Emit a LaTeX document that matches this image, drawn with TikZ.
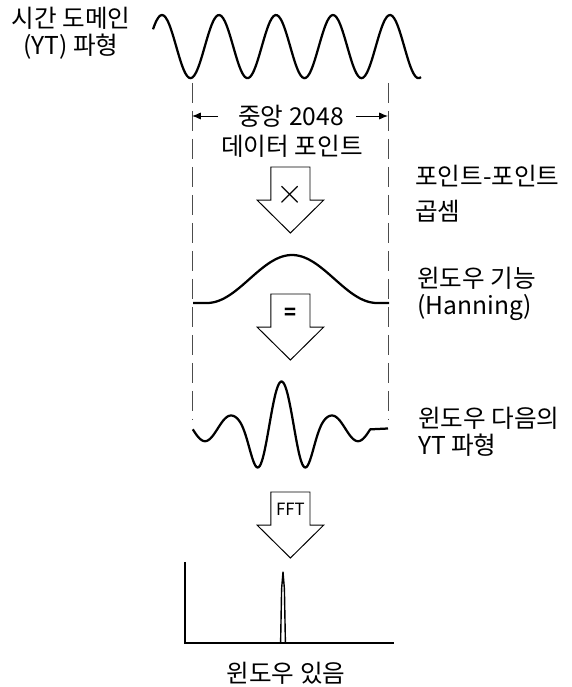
\documentclass[tikz,border=0pt]{standalone}
\usepackage{fontspec}
\setmainfont{Noto Sans CJK KR}
\usetikzlibrary{arrows.meta, positioning, calc}
\tikzset{
  caption/.style={inner sep=0pt, font=\fontsize{17.5}{19.5}\selectfont},
  wave/.style={line width=1.6pt, line join=round},
  window edge/.style={black!70, line width=0.6pt, dash pattern=on 0.5cm off 0.2cm},
  span/.style={-{Latex[length=2.2mm, width=1.8mm]}, line width=0.7pt},
  axis/.style={line width=1.1pt},
  sign/.style={inner sep=0pt}
}
\newcommand{\blockarrow}[3]{%
  \begin{scope}[shift={(#1,#2)}]
    \coordinate (#3) at (0,0);
    \draw[line width=0.7pt] (-0.49,0) -- (0.49,0) -- (0.49,-0.83) -- (0.83,-0.83)
      -- (0,-1.65) -- (-0.83,-0.83) -- (-0.49,-0.83) -- cycle;
  \end{scope}
}

\begin{document}
\begin{tikzpicture}
    \useasboundingbox (0,0) rectangle (14.3,17.175);

    % Time domain record
    \node[caption, align=center] (timedomain) at (1.775,16.34) {시간 도메인\\(YT) 파형};
    \draw[wave] plot[domain=3.825:10.525, samples=150, smooth]
      (\x, {16.01+0.79*cos(360*(\x-4.05)/1.425)});

    % Window edges
    \coordinate (leftTop) at (4.8,15.1);
    \coordinate (leftBot) at (4.8,6.675);
    \coordinate (rightTop) at (9.7,15.1);
    \coordinate (rightBot) at (9.7,6.675);
    \draw[window edge] (leftTop) -- (leftBot);
    \draw[window edge] (rightTop) -- (rightBot);

    \node[caption] (span) at (7.275,14.275) {중앙 2048};
    \node[caption] (points) at (7.3,13.525) {데이터 포인트};
    \draw[span] ([xshift=-5mm]span.west) -- (span.west -| leftTop);
    \draw[span] ([xshift=3mm]span.east) -- (span.east -| rightTop);

    % Multiply
    \blockarrow{7.26}{13.0}{mult}
    \node[sign, font=\fontsize{24}{24}\selectfont] (multsign) at ($(mult)+(0,-0.7)$) {$\times$};
    \node[caption, align=left, anchor=west] (pointwise) at (10.375,12.34) {포인트-포인트\\[1.8mm]곱셈};

    % Hanning window
    \draw[wave] (4.825,9.6) -- (5.175,9.6)
      -- plot[domain=5.175:9.425, samples=60, smooth] (\x, {10.2-0.6*cos(360*(\x-5.175)/4.25)})
      -- (9.725,9.6);
    \node[caption, align=left, anchor=west] (hanning) at (10.425,9.825) {윈도우 기능\\(Hanning)};

    % Equals
    \blockarrow{7.26}{9.825}{equal}
    \node[sign, font=\fontsize{14}{14}\selectfont\bfseries] (equalsign) at ($(equal)+(0,-0.5)$) {=};

    % Windowed record
    \draw[wave] plot[domain=4.82:9.255, samples=160, smooth]
      (\x, {6.4625+1.175*(0.27+0.73*exp(-((\x-7.0375)*(\x-7.0375)/0.7353)*((\x-7.0375)*(\x-7.0375)/0.7353)))*cos(360*(\x-7.0375)/1.275)})
      -- (9.7,6.4625);
    \node[caption, align=left, anchor=west] (windowed) at (10.45,6.375) {윈도우 다음의\\YT 파형};

    % FFT
    \blockarrow{7.26}{4.875}{fft}
    \node[sign, font=\fontsize{12}{12}\selectfont] (fftlabel) at ($(fft)+(0,-0.425)$) {FFT};

    % Spectrum
    \coordinate (yTop) at (4.625,3.125);
    \coordinate (origin) at (4.625,1.1);
    \coordinate (xEnd) at (9.85,1.1);
    \draw[axis] (yTop) -- (origin) -- (xEnd);
    \draw[line width=1pt, line join=round] (7.015,1.1) -- (7.04,2.45) -- (7.075,2.875)
      -- (7.11,2.45) -- (7.135,1.1);
    \node[caption] (withwin) at (7.15,0.35) {윈도우 있음};
\end{tikzpicture}
\end{document}
